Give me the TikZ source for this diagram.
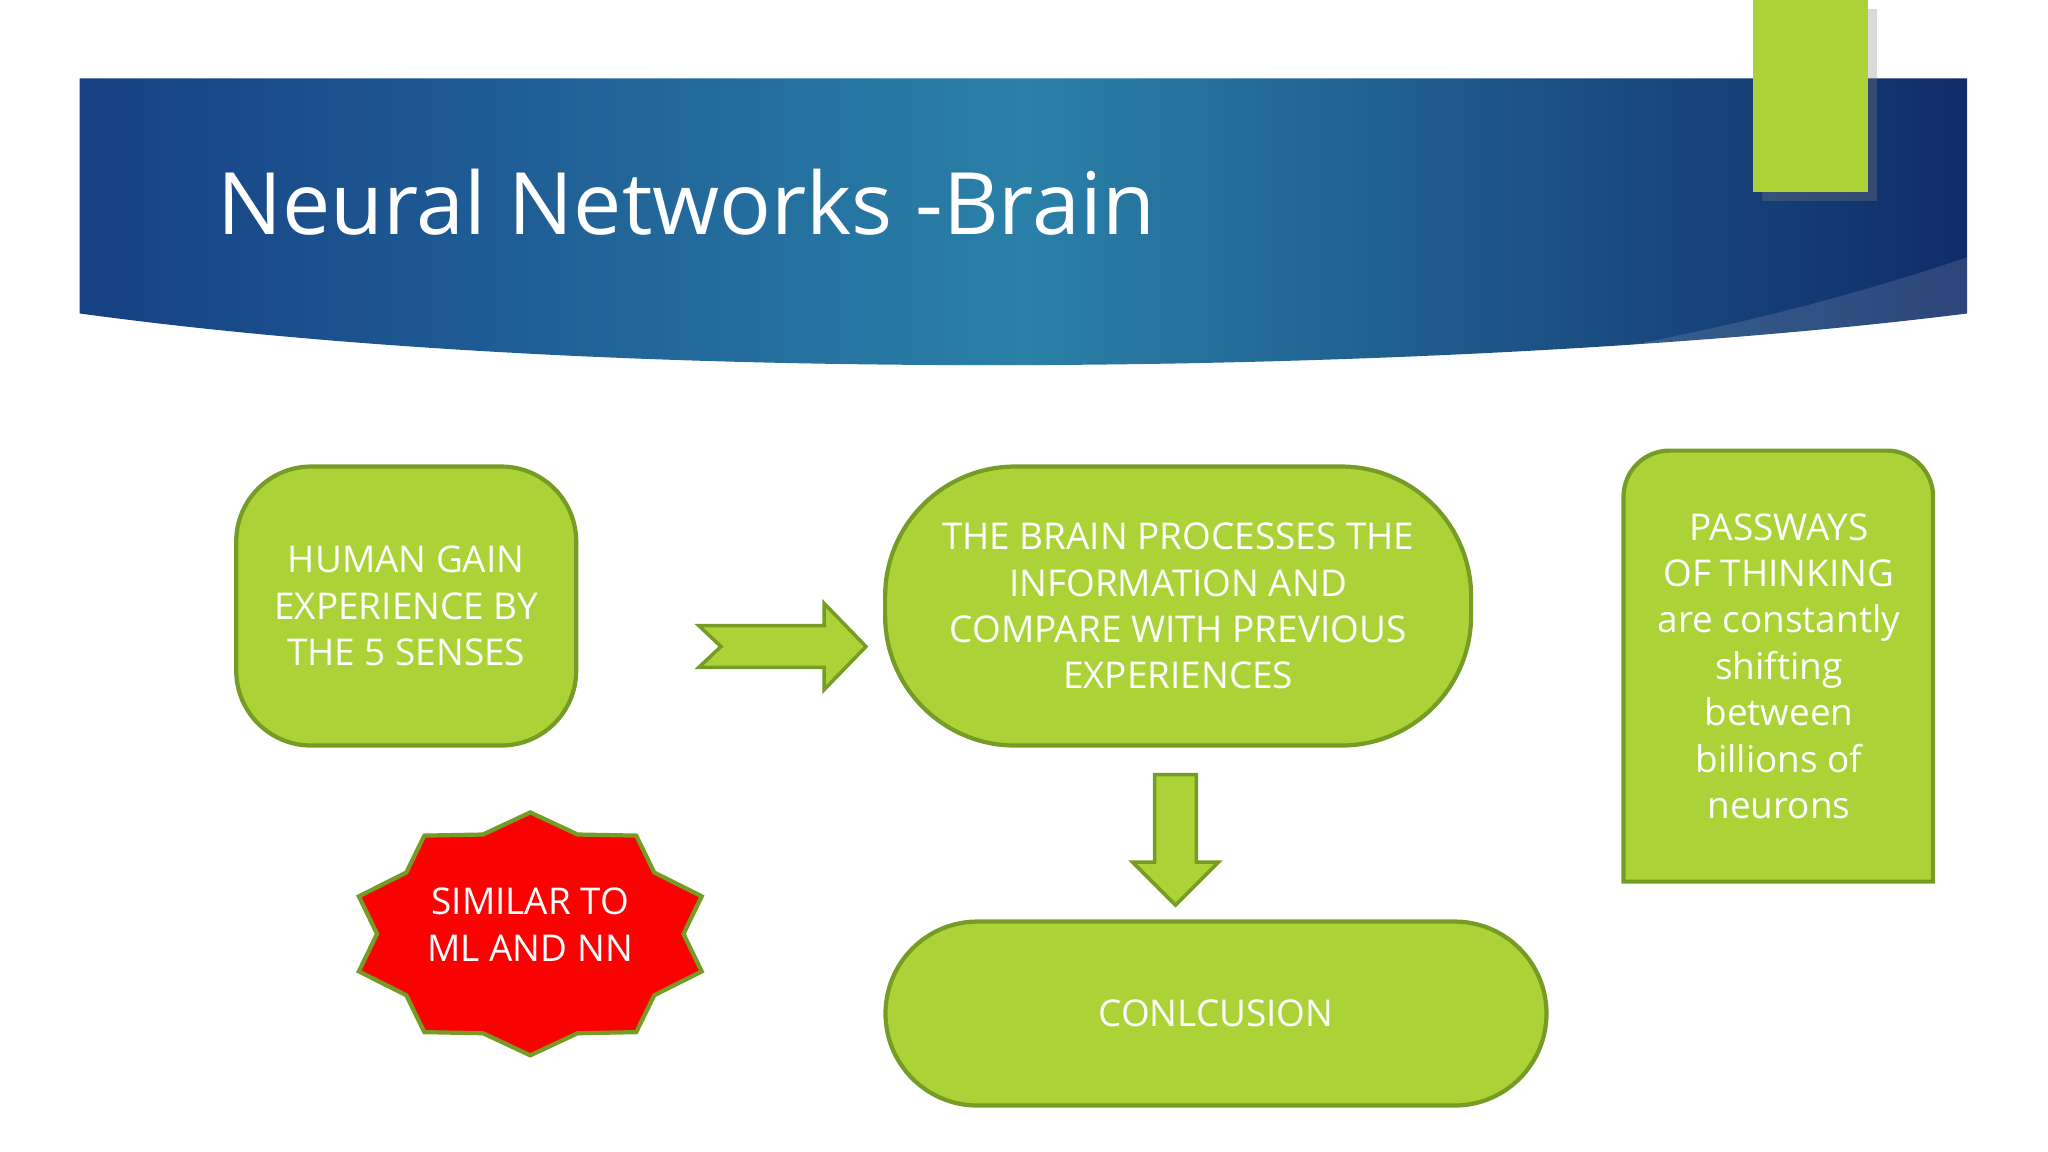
\documentclass[tikz,border=0pt]{standalone}
\usepackage{fontspec}
\setmainfont{Open Sans}
\usetikzlibrary{positioning,shadows,calc}
\definecolor{lime}{RGB}{171,211,56}
\definecolor{limeline}{RGB}{118,156,38}
\definecolor{navyA}{RGB}{22,64,132}
\definecolor{tealB}{RGB}{42,128,168}
\definecolor{navyC}{RGB}{16,44,104}
\definecolor{starred}{RGB}{250,2,2}

\begin{document}
\begin{tikzpicture}[
    x=0.01306cm, y=-0.01306cm,
    box/.style={draw=limeline, line width=1.2pt, fill=lime, text=white, align=center,
                font=\fontsize{10.5}{13.2}\selectfont, inner sep=0pt},
    blockarrow/.style={draw=limeline, line width=1pt, fill=lime},
]
\useasboundingbox (0,0) rectangle (1568,882);
% Banner with title
\shade[left color=navyA, right color=navyC, middle color=tealB]
  (61,60) -- (1506,60) -- (1506,240) .. controls (1150,285) and (500,300) .. (61,240) -- cycle;
\fill[white, opacity=0.12] (1506,197) .. controls (1350,250) and (1200,275) .. (1100,288)
  .. controls (1300,270) and (1420,252) .. (1506,240) -- cycle;
\node[anchor=west, text=white, font=\fontsize{24.5}{28}\selectfont] (title) at (157,155) {Neural Networks -Brain};
\fill[lime, drop shadow={opacity=0.3}] (1342,0) rectangle (1430,147);

% Boxes
\node[box, minimum width=3.40cm, minimum height=2.79cm, rounded corners=0.75cm] (senses) at (311,464)
  {HUMAN GAIN\\EXPERIENCE BY\\THE 5 SENSES};
\node[box, minimum width=5.86cm, minimum height=2.79cm, rounded corners=1.3cm] (brain) at (902,464)
  {THE BRAIN PROCESSES THE\\INFORMATION AND\\COMPARE WITH PREVIOUS\\EXPERIENCES};
\node[box, minimum width=6.61cm, minimum height=1.84cm, rounded corners=0.92cm] (concl) at (931,776)
  {CONLCUSION};
\fill[lime, draw=limeline, line width=1.2pt] (1243,675) [rounded corners=0.46cm]
  -- (1243,345) -- (1480,345) [sharp corners] -- (1480,675) -- cycle;
\node[box, draw=none, fill=none, minimum width=3.10cm, minimum height=4.31cm] (passways) at (1362,510)
  {PASSWAYS\\OF THINKING\\are constantly\\shifting\\between\\billions of\\neurons};

% Block arrows
\draw[blockarrow] (535,479) -- (631,479) -- (631,462) -- (663,495) -- (631,528) -- (631,511)
  -- (535,511) -- (552,495) -- cycle;
\draw[blockarrow] (884,593) -- (916,593) -- (916,660) -- (933,660) -- (900,693) -- (867,660)
  -- (884,660) -- cycle;

% Star
\coordinate (sc) at (406,715);
\draw[fill=starred, draw=limeline, line width=1.2pt] ($(sc)+(0,-93)$)
  \foreach \k in {0,...,9} {
    -- ($(sc)+({0.85*138*cos(108+36*\k)},{-0.86*93*sin(108+36*\k)})$)
    -- ($(sc)+({138*cos(126+36*\k)},{-93*sin(126+36*\k)})$)
  } -- cycle;
\node[text=white, align=center, font=\fontsize{10.5}{13.2}\selectfont] (similar) at (406,708)
  {SIMILAR TO\\ML AND NN};
\end{tikzpicture}
\end{document}
